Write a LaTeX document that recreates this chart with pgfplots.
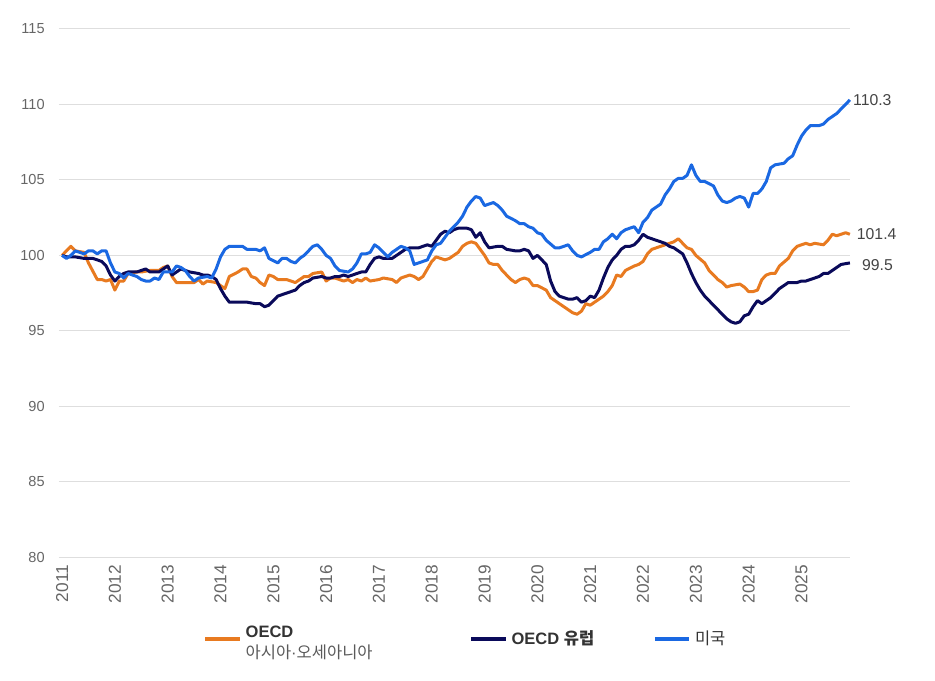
\documentclass[border=0pt]{standalone}
\usepackage{fontspec}
\setmainfont{Liberation Sans}
\newfontfamily\kr{Noto Sans CJK KR}
\usepackage{pgfplots}
\usepackage{pgfplotstable}
\pgfplotsset{compat=1.18}

\definecolor{asiaoc}{RGB}{232,122,32}
\definecolor{europe}{RGB}{10,10,90}
\definecolor{usa}{RGB}{26,104,226}
\definecolor{gridgray}{RGB}{222,222,222}
\definecolor{ticktext}{RGB}{102,102,102}
\definecolor{labeltext}{RGB}{68,68,68}
\definecolor{legendtext}{RGB}{51,51,51}
\definecolor{legendsub}{RGB}{90,90,90}

% month index (0 = Jan 2011), index value
\pgfplotstableread{
t v
0 100.0
2 100.6
3 100.3
5 100.2
6 99.5
8 98.4
9 98.4
10 98.3
11 98.4
12 97.7
13 98.3
14 98.3
15 98.8
17 98.9
18 98.9
20 99.0
22 99.0
23 99.2
24 99.3
25 98.6
26 98.2
28 98.2
30 98.2
31 98.4
32 98.1
33 98.3
35 98.2
36 98.0
37 97.8
38 98.6
40 98.9
41 99.1
42 99.1
43 98.6
44 98.5
45 98.2
46 98.0
47 98.7
48 98.6
49 98.4
51 98.4
53 98.2
54 98.4
55 98.6
56 98.6
57 98.8
59 98.9
60 98.3
61 98.5
62 98.5
64 98.3
65 98.4
66 98.2
67 98.4
68 98.3
69 98.5
70 98.3
72 98.4
73 98.5
75 98.4
76 98.2
77 98.5
79 98.7
80 98.6
81 98.4
82 98.6
83 99.1
84 99.6
85 99.9
87 99.7
88 99.8
89 100.0
90 100.2
91 100.6
92 100.8
93 100.9
94 100.8
95 100.4
96 100.0
97 99.5
98 99.4
99 99.4
100 99.0
102 98.4
103 98.2
104 98.4
105 98.5
106 98.4
107 98.0
108 98.0
110 97.7
111 97.2
112 97.0
113 96.8
114 96.6
115 96.4
116 96.2
117 96.1
118 96.3
119 96.8
120 96.7
121 96.9
123 97.3
124 97.6
125 98.0
126 98.7
127 98.6
128 99.0
130 99.3
131 99.4
132 99.6
133 100.1
134 100.4
135 100.5
136 100.6
138 100.8
139 100.9
140 101.1
141 100.8
142 100.5
143 100.4
144 100.0
146 99.5
147 99.0
148 98.7
149 98.4
150 98.2
151 97.9
152 98.0
154 98.1
155 97.9
156 97.6
157 97.6
158 97.7
159 98.4
160 98.7
161 98.8
162 98.8
163 99.3
165 99.8
166 100.3
167 100.6
168 100.7
169 100.8
170 100.7
171 100.8
173 100.7
174 101.0
175 101.4
176 101.3
177 101.4
178 101.5
179 101.4
}\asiaoceania

\pgfplotstableread{
t v
0 100.0
1 99.9
3 99.9
5 99.8
7 99.8
9 99.6
10 99.3
11 98.7
12 98.3
13 98.6
14 98.8
15 98.9
17 98.9
18 99.0
19 99.1
20 98.9
22 98.9
23 99.1
24 99.3
25 98.7
26 98.9
27 99.1
28 99.0
29 98.9
31 98.8
32 98.7
33 98.7
34 98.6
35 98.4
36 97.8
37 97.3
38 96.9
40 96.9
42 96.9
44 96.8
45 96.8
46 96.6
47 96.7
48 97.0
49 97.3
51 97.5
52 97.6
53 97.7
54 98.0
55 98.2
56 98.3
57 98.5
59 98.6
60 98.5
61 98.5
62 98.6
63 98.6
64 98.7
65 98.6
67 98.8
68 98.9
69 98.9
70 99.4
71 99.8
72 99.9
73 99.8
75 99.8
76 100.0
77 100.2
78 100.4
79 100.5
80 100.5
81 100.5
83 100.7
84 100.6
85 101.0
86 101.4
87 101.6
88 101.5
89 101.7
90 101.8
92 101.8
93 101.7
94 101.2
95 101.5
96 100.9
97 100.5
99 100.6
100 100.6
101 100.4
103 100.3
104 100.3
105 100.4
106 100.3
107 99.8
108 100.0
110 99.4
111 98.3
112 97.6
113 97.3
114 97.2
115 97.1
116 97.1
117 97.2
118 96.9
119 97.0
120 97.3
121 97.2
122 97.7
123 98.5
124 99.2
125 99.7
126 100.0
127 100.4
128 100.6
129 100.6
130 100.7
131 101.0
132 101.4
133 101.2
134 101.1
135 101.0
136 100.9
137 100.8
138 100.6
139 100.5
140 100.3
141 100.1
142 99.5
143 98.8
144 98.2
145 97.7
146 97.3
147 97.0
148 96.7
149 96.4
150 96.1
151 95.8
152 95.6
153 95.5
154 95.6
155 96.0
156 96.1
157 96.6
158 97.0
159 96.8
160 97.0
161 97.2
162 97.5
163 97.8
164 98.0
165 98.2
167 98.2
168 98.3
169 98.3
170 98.4
171 98.5
172 98.6
173 98.8
174 98.8
175 99.0
176 99.2
177 99.4
179 99.5
}\europe

\pgfplotstableread{
t v
0 100.0
1 99.8
2 100.0
3 100.3
5 100.1
6 100.3
7 100.3
8 100.1
9 100.3
10 100.3
11 99.5
12 98.9
13 98.8
14 98.5
15 98.8
17 98.6
18 98.4
19 98.3
20 98.3
21 98.5
22 98.4
23 98.9
25 98.9
26 99.3
27 99.2
28 99.0
29 98.6
30 98.3
31 98.5
33 98.6
34 98.5
35 99.1
36 99.9
37 100.4
38 100.6
39 100.6
41 100.6
42 100.4
43 100.4
44 100.4
45 100.3
46 100.5
47 99.8
49 99.5
50 99.8
51 99.8
52 99.6
53 99.5
54 99.8
55 100.0
57 100.6
58 100.7
59 100.4
60 100.0
61 99.8
62 99.3
63 99.0
65 98.9
66 99.1
67 99.5
68 100.1
69 100.1
70 100.2
71 100.7
72 100.5
74 99.9
75 100.2
76 100.4
77 100.6
78 100.5
79 100.3
80 99.4
82 99.6
83 99.7
84 100.3
85 100.7
86 100.8
87 101.2
88 101.6
90 102.2
91 102.6
92 103.2
93 103.6
94 103.9
95 103.8
96 103.3
97 103.4
98 103.5
99 103.3
100 103.0
101 102.6
103 102.3
104 102.1
105 102.1
106 101.9
107 101.8
108 101.5
109 101.4
110 101.0
112 100.5
113 100.5
114 100.6
115 100.7
116 100.3
117 100.0
118 99.9
120 100.2
121 100.4
122 100.4
123 100.9
124 101.1
125 101.4
126 101.1
127 101.5
128 101.7
129 101.8
130 101.9
131 101.5
132 102.2
133 102.5
134 103.0
136 103.4
137 104.0
138 104.4
139 104.9
140 105.1
141 105.1
142 105.3
143 106.0
144 105.3
145 104.9
146 104.9
148 104.6
149 104.0
150 103.6
151 103.5
152 103.6
153 103.8
154 103.9
155 103.8
156 103.2
157 104.1
158 104.1
159 104.4
160 104.9
161 105.8
162 106.0
164 106.1
165 106.4
166 106.6
167 107.3
168 107.9
169 108.3
170 108.6
172 108.6
173 108.7
174 109.0
175 109.2
176 109.4
177 109.7
178 110.0
179 110.3
}\usa

\begin{document}
\begin{tikzpicture}
\useasboundingbox (-39.3pt,-82pt) rectangle (583.7pt,371.3pt);
\begin{axis}[
  at={(0,0)}, anchor=south west,
  scale only axis, width=527pt, height=352pt,
  xmin=-0.7, xmax=179, ymin=80, ymax=115,
  xtick={0,12,...,168},
  xticklabels={2011,2012,2013,2014,2015,2016,2017,2018,2019,2020,2021,2022,2023,2024,2025},
  ytick={80,85,...,115},
  ymajorgrids, grid style={gridgray, line width=0.7pt},
  axis line style={draw=none},
  major tick length=0pt,
  /pgf/number format/assume math mode=true,
  yticklabel style={font=\fontsize{9.7}{11}\selectfont, text=ticktext, xshift=-6pt},
  xticklabel style={font=\fontsize{11.5}{13}\selectfont, text=ticktext, rotate=90, anchor=east, inner sep=0pt, xshift=-5pt},
  clip=false,
  legend columns=3,
  legend style={at={(0.515,-0.155)}, anchor=center, draw=none, fill=none,
    font=\fontsize{11}{14}\selectfont, text=legendtext,
    nodes={inner sep=2.5pt}},
  legend cell align=left,
  legend image code/.code={\draw[#1, line width=2.6pt, line cap=butt] (0pt,0pt) -- (23pt,0pt);},
  every axis plot/.append style={line width=2pt, line join=round},
]
\addplot[asiaoc] table[x=t, y=v] {\asiaoceania};
\addlegendentry{\raisebox{4pt}{\begin{tabular}{@{}l@{}}\textbf{OECD}\\{\color{legendsub}\kr 아시아}{\color{legendsub}·}{\color{legendsub}\kr 오세아니아}\end{tabular}}\hspace{62pt}\mbox{}}
\addplot[europe] table[x=t, y=v] {\europe};
\addlegendentry{\textbf{OECD {\kr 유럽}}\hspace{36.5pt}\mbox{}}
\addplot[usa] table[x=t, y=v] {\usa};
\addlegendentry{{\kr 미국}}

\node[anchor=west, text=labeltext, font=\fontsize{10.5}{12}\selectfont, inner sep=0pt, xshift=2pt] at (axis cs:179,110.3) {110.3};
\node[anchor=west, text=labeltext, font=\fontsize{10.5}{12}\selectfont, inner sep=0pt, xshift=4.5pt] at (axis cs:179,101.4) {101.4};
\node[anchor=west, text=labeltext, font=\fontsize{10.5}{12}\selectfont, inner sep=0pt, xshift=8pt, yshift=-1.5pt] at (axis cs:179,99.5) {99.5};
\end{axis}
\end{tikzpicture}
\end{document}
